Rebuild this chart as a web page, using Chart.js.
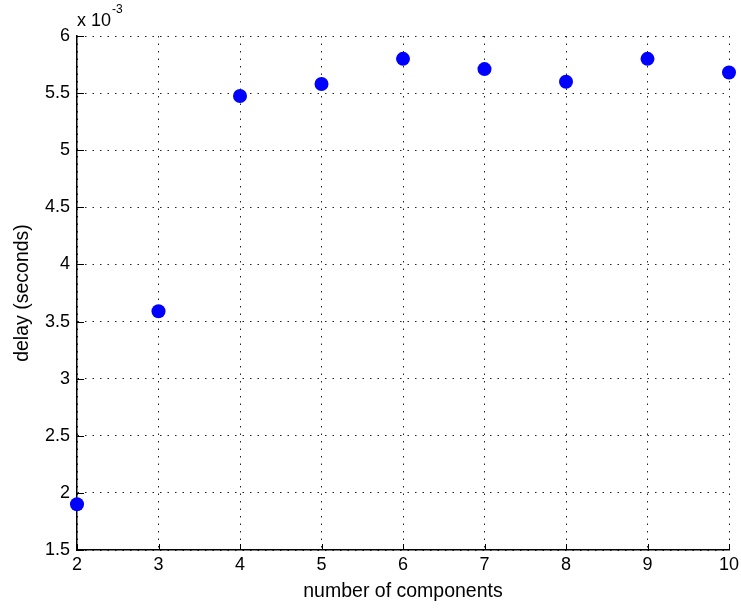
<!DOCTYPE html>
<html>
<head>
<meta charset="utf-8">
<script src="https://cdn.jsdelivr.net/npm/chart.js@4.4.1/dist/chart.umd.min.js"></script>
<style>
  html, body { margin: 0; padding: 0; background: #fff; }
  #wrap { width: 741px; height: 609px; }
</style>
</head>
<body>
<div id="wrap"><canvas id="delayChart" width="741" height="609"></canvas></div>
<script>
const ctx = document.getElementById('delayChart').getContext('2d');

// number of components vs delay (seconds)
const components = [2, 3, 4, 5, 6, 7, 8, 9, 10];
const delays = [0.00190, 0.00359, 0.005475, 0.00558, 0.00580, 0.00571, 0.00560, 0.00580, 0.00568];

const fontFamily = '"Liberation Sans", Arial, Helvetica, sans-serif';

// MATLAB-style inward tick marks + exponent label
const matlabTicks = {
    id: 'matlabTicks',
    beforeDatasetsDraw(chart) {
        const c = chart.ctx;
        const xs = chart.scales.x, ys = chart.scales.y;
        const area = chart.chartArea;
        c.save();
        c.strokeStyle = '#000';
        c.lineWidth = 1;
        xs.ticks.forEach(t => {
            const px = Math.round(xs.getPixelForValue(t.value)) + 0.5;
            c.beginPath();
            c.moveTo(px, area.bottom);
            c.lineTo(px, area.bottom - 6);
            c.stroke();
        });
        ys.ticks.forEach(t => {
            const py = Math.round(ys.getPixelForValue(t.value)) + 0.5;
            c.beginPath();
            c.moveTo(area.left, py);
            c.lineTo(area.left + 7, py);
            c.stroke();
        });
        c.restore();
    },
    afterDraw(chart) {
        const c = chart.ctx;
        const left = chart.chartArea.left;
        c.save();
        c.fillStyle = '#000';
        c.textBaseline = 'alphabetic';
        c.font = '18px ' + fontFamily;
        c.fillText('x 10', left, 26);
        const w = c.measureText('x 10').width;
        c.font = '12px ' + fontFamily;
        c.fillText('-3', left + w + 1, 13);
        c.restore();
    }
};

const data = {
    datasets: [{
        label: 'delay',
        data: components.map((x, i) => ({ x: x, y: delays[i] })),
        backgroundColor: '#0000ff',
        borderWidth: 0,
        pointRadius: 7,
        pointHoverRadius: 7,
        clip: false
    }]
};

const config = {
    type: 'scatter',
    data: data,
    options: {
        responsive: false,
        animation: false,
        layout: {
            padding: { top: 36, right: 12, bottom: 0, left: 0 }
        },
        plugins: {
            legend: { display: false },
            tooltip: { enabled: false }
        },
        scales: {
            x: {
                type: 'linear',
                min: 2,
                max: 10,
                afterFit: s => { s.height = 59; s.paddingLeft = 0; s.paddingRight = 0; },
                ticks: {
                    stepSize: 1,
                    color: '#000',
                    padding: 4,
                    font: { family: fontFamily, size: 18 }
                },
                grid: {
                    color: '#222',
                    lineWidth: 1,
                    drawTicks: false
                },
                border: {
                    display: true,
                    color: '#000',
                    width: 1.5,
                    dash: [1.5, 6]
                },
                title: {
                    display: true,
                    text: 'number of components',
                    color: '#000',
                    padding: { top: 0, bottom: 6 },
                    font: { family: fontFamily, size: 19.5 }
                }
            },
            y: {
                type: 'linear',
                min: 0.0015,
                max: 0.006,
                afterFit: s => { s.width = 77; s.paddingTop = 0; s.paddingBottom = 0; },
                ticks: {
                    stepSize: 0.0005,
                    color: '#000',
                    padding: 7,
                    font: { family: fontFamily, size: 18 },
                    callback: v => String(Math.round(v * 10000) / 10)
                },
                grid: {
                    color: '#222',
                    lineWidth: 1,
                    drawTicks: false
                },
                border: {
                    display: true,
                    color: '#000',
                    width: 1.5,
                    dash: [1.5, 6]
                },
                title: {
                    display: true,
                    text: 'delay (seconds)',
                    color: '#000',
                    padding: { top: 11, bottom: 0 },
                    font: { family: fontFamily, size: 19.5 }
                }
            }
        }
    },
    plugins: [matlabTicks]
};

new Chart(ctx, config);
</script>
</body>
</html>
